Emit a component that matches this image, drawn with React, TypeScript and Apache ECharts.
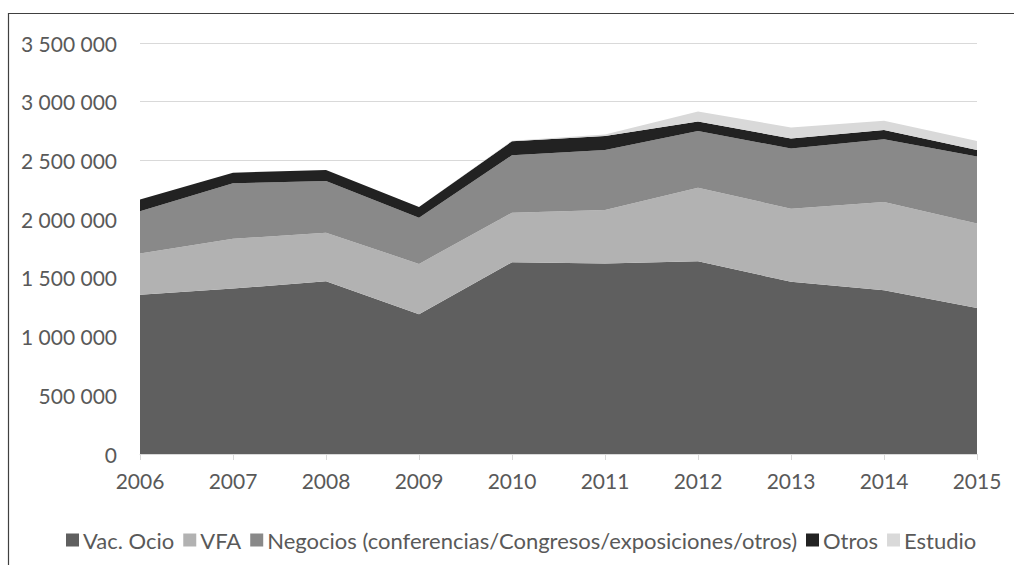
import React, { useEffect, useRef } from "react";
import * as echarts from "echarts";

const years = ["2006", "2007", "2008", "2009", "2010", "2011", "2012", "2013", "2014", "2015"];
const vacOcio = [1357000, 1409000, 1471000, 1190000, 1633000, 1622000, 1642000, 1466000, 1394000, 1244000];
const vfa = [350000, 424000, 413000, 429000, 422000, 455000, 626000, 623000, 751000, 719000];
const negocios = [361000, 472000, 441000, 393000, 489000, 512000, 483000, 512000, 536000, 570000];
const otros = [100000, 91000, 94000, 91000, 119000, 120000, 81000, 86000, 79000, 56000];
const estudio = [0, 0, 0, 0, 5000, 12000, 85000, 94000, 77000, 77000];

const seriesNames = [
  "Vac. Ocio",
  "VFA",
  "Negocios (conferencias/Congresos/exposiciones/otros)",
  "Otros",
  "Estudio",
];
const seriesColors = ["#5f5f5f", "#b2b2b2", "#898989", "#222222", "#d9d9d9"];
const seriesData = [vacOcio, vfa, negocios, otros, estudio];

const FONT = "Lato, 'Noto Sans', sans-serif";

function fmt(v: number): string {
  return String(v).replace(/\B(?=(\d{3})+(?!\d))/g, " ");
}

export default function App() {
  const ref = useRef<HTMLDivElement>(null);
  useEffect(() => {
    if (!ref.current) return;
    const chart = echarts.init(ref.current, null, { renderer: "svg" });
    chart.setOption({
      animation: false,
      backgroundColor: "#ffffff",
      textStyle: { fontFamily: FONT },
      grid: { left: 140, right: 37, top: 43, bottom: 111, containLabel: false },
      legend: {
        top: 524,
        left: 61,
        itemWidth: 13,
        itemHeight: 13,
        itemGap: 9,
        icon: "rect",
        textStyle: { color: "#595959", fontSize: 22, fontFamily: FONT, padding: [0, 0, 0, -1] },
        data: seriesNames,
      },
      graphic: [
        {
          type: "rect",
          shape: { x: 8.5, y: 13.5, width: 1100, height: 700 },
          style: { fill: "none", stroke: "#404040", lineWidth: 1.2 },
          silent: true,
        },
      ],
      xAxis: {
        type: "category",
        data: years,
        boundaryGap: false,
        axisLine: { lineStyle: { color: "#d9d9d9", width: 1 } },
        axisTick: { show: true, length: 6, lineStyle: { color: "#d9d9d9" }, alignWithLabel: true },
        axisLabel: { color: "#595959", fontSize: 21, margin: 16, fontFamily: FONT },
        splitLine: { show: false },
      },
      yAxis: {
        type: "value",
        min: 0,
        max: 3500000,
        interval: 500000,
        axisLine: { show: false },
        axisTick: { show: false },
        axisLabel: { color: "#595959", fontSize: 21, margin: 23, formatter: (v: number) => fmt(v), fontFamily: FONT },
        splitLine: { lineStyle: { color: "#d9d9d9", width: 1 } },
      },
      series: seriesNames.map((name, i) => ({
        name,
        type: "line",
        stack: "total",
        data: seriesData[i],
        symbol: "none",
        lineStyle: { width: 0 },
        areaStyle: { color: seriesColors[i], opacity: 1 },
        itemStyle: { color: seriesColors[i] },
        z: 2,
      })),
    });
    return () => chart.dispose();
  }, []);
  return (
    <div
      ref={ref}
      style={{ position: "absolute", left: 0, top: 0, width: 1014, height: 565 }}
    />
  );
}
